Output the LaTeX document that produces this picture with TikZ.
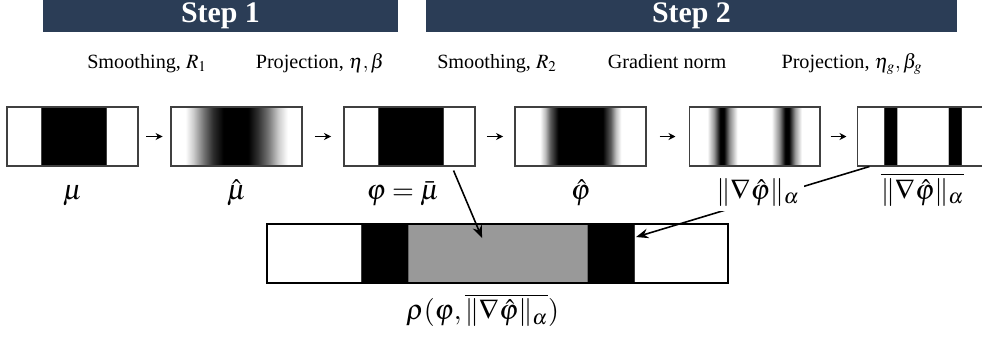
\documentclass[tikz,border=0pt]{standalone}
\usepackage{mathptmx}
\usepackage{fontspec}
\setmainfont{Liberation Serif}
\usetikzlibrary{arrows.meta, positioning, calc}

\definecolor{stepblue}{RGB}{43,61,86}

% 1D field profiles (25bp..75bp is the box width)
\pgfdeclarehorizontalshading{mufield}{100bp}{color(0bp)=(white); color(37.75bp)=(white); color(37.76bp)=(black); color(62.74bp)=(black); color(62.75bp)=(white); color(100bp)=(white)}
\pgfdeclarehorizontalshading{muhatfield}{100bp}{color(0bp)=(white); color(30.5bp)=(white); color(33.5bp)=(black!20); color(37.5bp)=(black!55); color(41bp)=(black!82); color(45bp)=(black); color(54.5bp)=(black); color(58bp)=(black!82); color(62bp)=(black!55); color(66bp)=(black!20); color(69.5bp)=(white); color(100bp)=(white)}
\pgfdeclarehorizontalshading{phihatfield}{100bp}{color(0bp)=(white); color(34.5bp)=(white); color(36.5bp)=(black!25); color(38.5bp)=(black!65); color(41.5bp)=(black); color(58.5bp)=(black); color(61.5bp)=(black!65); color(63.5bp)=(black!25); color(65.5bp)=(white); color(100bp)=(white)}
\pgfdeclarehorizontalshading{gradfield}{100bp}{color(0bp)=(white); color(32bp)=(white); color(34.5bp)=(black!40); color(36.85bp)=(black); color(38.35bp)=(black); color(40.5bp)=(black!45); color(43.5bp)=(white); color(56.5bp)=(white); color(59.5bp)=(black!45); color(61.65bp)=(black); color(63.15bp)=(black); color(65.5bp)=(black!40); color(68bp)=(white); color(100bp)=(white)}
\pgfdeclarehorizontalshading{gradbarfield}{100bp}{color(0bp)=(white); color(35.25bp)=(white); color(35.26bp)=(black); color(40.29bp)=(black); color(40.3bp)=(white); color(59.7bp)=(white); color(59.71bp)=(black); color(64.74bp)=(black); color(64.75bp)=(white); color(100bp)=(white)}
\pgfdeclarehorizontalshading{rhofield}{100bp}{color(0bp)=(white); color(35.2bp)=(white); color(35.21bp)=(black); color(40.29bp)=(black); color(40.3bp)=(black!40); color(59.7bp)=(black!40); color(59.71bp)=(black); color(64.79bp)=(black); color(64.8bp)=(white); color(100bp)=(white)}

\begin{document}
\begin{tikzpicture}[x=0.02cm, y=-0.02cm, >=Stealth,
  field/.style={draw=black!75, line width=0.6pt, minimum width=2.62cm, minimum height=1.18cm, inner sep=0pt},
  stepbar/.style={fill=stepblue, text=white, font=\bfseries\fontsize{17}{20}\selectfont, minimum height=0.64cm, inner sep=0pt},
  oplabel/.style={anchor=base, font=\fontsize{11.5}{14}\selectfont},
  fieldlabel/.style={inner sep=2.5pt, font=\fontsize{16}{19}\selectfont},
  opArrow/.style={-{Stealth[length=4pt,width=4pt]}, line width=0.7pt},
  linkArrow/.style={-{Stealth[length=7pt,width=5.5pt]}, line width=0.9pt}]
\useasboundingbox (0,0) rectangle (982,338);
\clip (0,0) rectangle (982,338);
% Step banners
\node[stepbar, minimum width=7.1cm] (step1) at (220.5,16) {Step 1};
\node[stepbar, minimum width=10.62cm] (step2) at (691.5,16) {Step 2};
% Fields
\node[field, shading=mufield] (mu) at (72.5,136.5) {};
\node[field, shading=muhatfield] (muhat) at (236.5,136.5) {};
\node[field, shading=mufield] (phi) at (409.5,136.5) {};
\node[field, shading=phihatfield] (phihat) at (580.5,136.5) {};
\node[field, shading=gradfield] (grad) at (754.5,136.5) {};
\node[field, shading=gradbarfield] (gradbar) at (922.5,136.5) {};
\node[field, draw=black, line width=1.1pt, minimum width=9.22cm, shading=rhofield] (rho) at (497.5,253.5) {};
% Operations
\draw[opArrow, shorten <=4.5pt, shorten >=4.5pt] (mu) -- (muhat);
\draw[opArrow, shorten <=7.1pt, shorten >=7.1pt] (muhat) -- (phi);
\draw[opArrow, shorten <=6.5pt, shorten >=6.5pt] (phi) -- (phihat);
\draw[opArrow, shorten <=7.4pt, shorten >=7.4pt] (phihat) -- (grad);
\draw[opArrow, shorten <=5.7pt, shorten >=5.7pt] (grad) -- (gradbar);
\node[oplabel] (op1) at (147,68) {Smoothing, $R_1$};
\node[oplabel] (op2) at (320,68) {Projection, $\eta,\beta$};
\node[oplabel] (op3) at (497,68) {Smoothing, $R_2$};
\node[oplabel] (op4) at (667,68) {Gradient norm};
\node[oplabel] (op5) at (852,68) {Projection, $\eta_g,\beta_g$};
% Combination
\coordinate (phifoot) at ($(phi.south east)+(-22,4)$);
\coordinate (rhocore) at ($(rho.north west)+(216,15)$);
\coordinate (gradfoot) at ($(gradbar.south west)+(13,0)$);
\coordinate (rhorim) at ($(rho.north west)+(370,14)$);
\draw[linkArrow] (phifoot) -- (rhocore);
\draw[linkArrow] (gradfoot) -- (rhorim);
% Field labels
\node[fieldlabel, below=0.66cm of mu, anchor=base] (lmu) {$\mu$};
\node[fieldlabel, below=0.66cm of muhat, anchor=base] (lmuhat) {$\hat{\mu}$};
\node[fieldlabel, below=0.66cm of phi, anchor=base, xshift=-0.13cm] (lphi) {$\varphi=\bar{\mu}$};
\node[fieldlabel, below=0.66cm of phihat, anchor=base] (lphihat) {$\hat{\varphi}$};
\node[fieldlabel, fill=white, below=0.66cm of grad, anchor=base, xshift=0.07cm] (lgrad) {$\|\nabla\hat{\varphi}\|_\alpha$};
\node[fieldlabel, below=0.66cm of gradbar, anchor=base] (lgradbar) {$\overline{\|\nabla\hat{\varphi}\|_\alpha}$};
\node[fieldlabel, below=0.72cm of rho, anchor=base, xshift=-0.3cm] (lrho) {$\rho(\varphi,\overline{\|\nabla\hat{\varphi}\|_\alpha})$};
\end{tikzpicture}
\end{document}
